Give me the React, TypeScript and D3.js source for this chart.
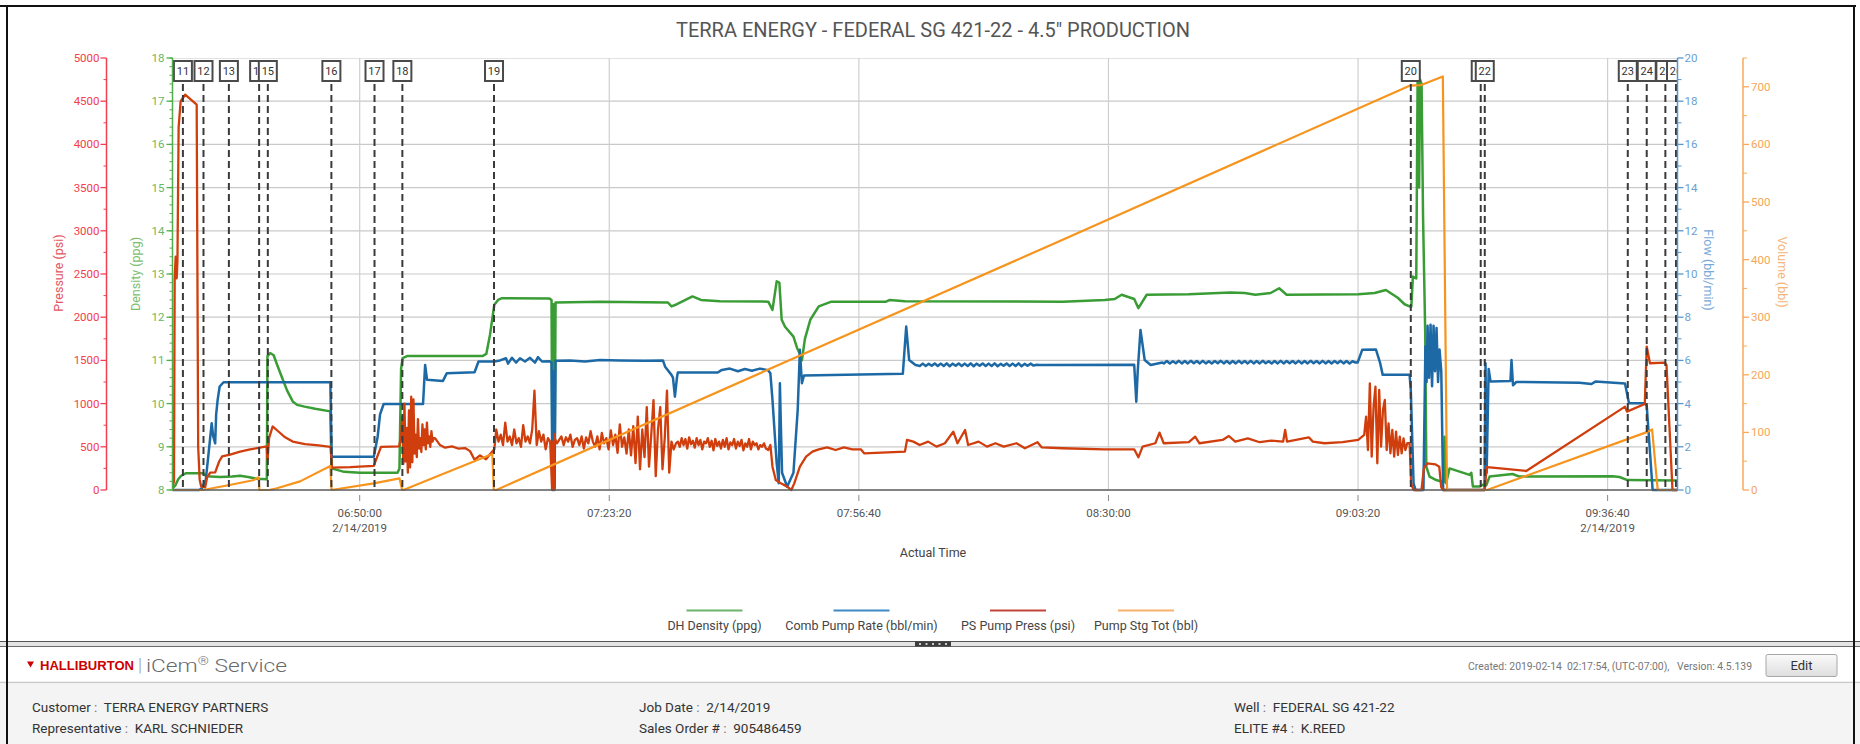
import React from "react";
import * as d3 from "d3";

type Pt = [number, number]; // [minutes after 06:00:00 on 2/14/2019, value]
type Burst = { start: number; step: number; values: number[] };

// ---------------- DATA ----------------
const TITLE = 'TERRA ENERGY - FEDERAL SG 421-22 - 4.5" PRODUCTION';
const TIME_DOMAIN = ["06:25:00", "09:46:00"];
const TIME_TICKS = ["06:50:00", "07:23:20", "07:56:40", "08:30:00", "09:03:20", "09:36:40"];
const DATED_TICKS = ["06:50:00", "09:36:40"];
const DATE_LABEL = "2/14/2019";

const PRESSURE_TICKS = [0, 500, 1000, 1500, 2000, 2500, 3000, 3500, 4000, 4500, 5000];
const DENSITY_TICKS = [8, 9, 10, 11, 12, 13, 14, 15, 16, 17, 18];
const FLOW_TICKS = [0, 2, 4, 6, 8, 10, 12, 14, 16, 18, 20];
const VOLUME_TICKS = [0, 100, 200, 300, 400, 500, 600, 700];

const MARKERS: [string, number][] = [
  ["11", 26.39], ["12", 29.14], ["13", 32.53], ["14", 36.57], ["15", 37.73], ["16", 46.22],
  ["17", 51.98], ["18", 55.7], ["19", 67.94], ["20", 190.38], ["21", 199.72], ["22", 200.26],
  ["23", 219.36], ["24", 221.89], ["25", 224.38], ["26", 225.8],
];

const DENSITY: Pt[] = [
  [25.06, 8.05], [25.36, 8.1], [25.76, 8.25], [26.16, 8.33], [26.83, 8.39], [29.1, 8.39], [29.5, 8.32],
  [31.37, 8.3], [32.97, 8.31], [34.03, 8.33], [35.1, 8.3], [36.26, 8.26], [37.6, 8.25], [37.68, 11.1],
  [38.04, 11.17], [38.51, 11.12], [38.97, 10.9], [39.64, 10.6], [40.31, 10.3], [41.06, 10.05], [41.64, 9.97],
  [42.64, 9.93], [44.05, 9.88], [46.08, 9.82], [46.24, 8.5], [47.92, 8.42], [50.05, 8.4], [55.05, 8.4],
  [55.31, 8.5], [55.53, 10.8], [55.73, 11.05], [56.33, 11.1], [66.39, 11.1], [66.91, 11.15], [67.41, 11.6],
  [67.98, 12.29], [68.48, 12.4], [69.01, 12.44], [75.36, 12.43], [75.62, 12.4], [75.75, 8.02], [75.88, 12.3],
  [76.02, 8.05], [76.16, 12.34], [82.09, 12.36], [91.17, 12.34], [91.64, 12.25], [92.37, 12.3], [94.45, 12.48],
  [95.57, 12.4], [98.11, 12.37], [104.57, 12.36], [105.13, 12.17], [105.69, 12.83], [106.05, 12.8],
  [106.36, 11.94], [106.81, 11.78], [107.93, 11.55], [108.39, 11.3], [108.79, 11.15], [109.06, 11.0],
  [109.46, 11.5], [110.18, 11.94], [111.31, 12.25], [113.0, 12.36], [120.3, 12.36], [120.8, 12.4],
  [122.81, 12.37], [143.9, 12.36], [149.5, 12.4], [150.84, 12.42], [151.76, 12.52], [153.44, 12.42],
  [154.0, 12.21], [155.11, 12.52], [160.72, 12.53], [166.32, 12.57], [168.19, 12.56], [169.63, 12.52],
  [171.66, 12.56], [172.8, 12.67], [173.8, 12.52], [183.36, 12.53], [185.55, 12.56], [187.05, 12.63],
  [188.64, 12.45], [189.55, 12.3], [190.22, 12.25], [190.45, 12.25], [190.66, 12.94], [191.11, 12.9],
  [191.29, 17.5], [191.49, 15.0], [191.62, 17.5], [191.82, 17.4], [192.02, 14.3], [192.31, 11.6],
  [192.45, 8.54], [192.89, 8.31], [193.78, 8.23], [194.76, 8.18], [194.89, 9.23], [195.09, 8.16],
  [195.56, 8.5], [198.23, 8.35], [198.46, 8.4], [198.67, 8.08], [199.56, 8.08], [199.96, 8.12],
  [200.46, 8.11], [200.9, 8.31], [203.97, 8.37], [204.9, 8.31], [217.32, 8.32], [218.25, 8.3],
  [219.32, 8.23], [226.0, 8.22],
];

const FLOW: Pt[] = [
  [25.06, 0], [28.56, 0], [28.92, 0.08], [29.44, 0.46], [29.76, 1.5], [30.23, 3.09], [30.43, 2.5],
  [30.7, 2.16], [30.83, 3.5], [31.03, 4.17], [31.3, 4.79], [31.82, 4.99], [46.08, 4.99], [46.26, 1.54],
  [51.88, 1.54], [52.4, 2.47], [52.72, 3.5], [53.2, 3.98], [58.46, 3.98], [58.74, 5.79], [59.0, 5.1],
  [61.12, 5.05], [61.64, 5.41], [65.34, 5.45], [65.87, 5.95], [67.98, 5.95], [68.74, 6.0], [69.54, 6.1],
  [69.81, 5.85], [70.34, 6.12], [70.88, 5.9], [71.41, 6.1], [72.08, 5.95], [72.75, 6.12], [73.41, 5.9],
  [73.81, 6.15], [74.35, 5.95], [75.36, 5.96], [75.62, 5.9], [75.75, 0], [75.88, 5.5], [76.02, 0],
  [76.16, 5.98], [78.09, 6.0], [80.09, 5.95], [82.09, 6.02], [84.76, 6.0], [88.1, 5.98], [90.5, 6.0],
  [90.79, 5.71], [91.64, 5.33], [91.84, 5.2], [92.1, 4.32], [92.37, 5.2], [92.49, 5.44], [97.82, 5.44],
  [98.38, 5.56], [99.44, 5.62], [100.51, 5.5], [101.45, 5.6], [102.38, 5.52], [103.45, 5.62], [104.52, 5.55],
  [104.85, 5.4], [105.13, 4.17], [105.69, 1.24], [105.97, 0.31], [106.12, 4.94], [106.25, 3.0], [106.41, 0.8],
  [107.09, 0.15], [107.93, 0.8], [108.5, 3.71], [108.79, 6.49], [109.06, 4.94], [109.34, 5.3], [122.54, 5.38],
  [122.99, 7.57], [123.38, 6.02], [124.23, 5.79], [124.6, 5.76],
  [141.09, 5.79], [153.44, 5.8], [153.72, 4.09], [153.91, 5.5],
  [154.28, 7.41], [154.84, 6.02], [155.64, 5.79], [157.2, 5.9],
  [183.28, 5.9], [183.89, 6.49], [185.73, 6.5], [186.27, 5.9], [186.63, 5.33], [190.22, 5.33], [190.38, 4.63],
  [190.75, 0.31], [191.02, 0], [192.07, 0], [192.33, 6.64], [192.49, 5.0], [192.62, 7.6], [192.82, 5.2],
  [193.02, 7.65], [193.22, 4.8], [193.42, 7.6], [193.62, 5.5], [193.82, 7.5], [194.02, 5.0], [194.22, 6.5],
  [194.45, 5.5], [194.7, 0], [200.23, 0], [200.36, 5.87], [200.51, 0.8], [200.78, 5.6], [201.03, 5.02],
  [203.69, 5.05], [203.83, 6.02], [204.03, 4.85], [204.47, 5.0], [212.91, 4.97], [214.51, 4.91],
  [215.03, 5.02], [218.99, 4.93], [219.52, 4.02], [221.63, 4.02], [221.89, 3.9], [222.68, 0], [226.0, 0],
];
const FLOW_NOISE_A: Burst = {
  start: 124.8, step: 0.4,
  values: [5.74, 5.85, 5.74, 5.84, 5.75, 5.86, 5.74, 5.85, 5.74, 5.86,
    5.73, 5.85, 5.75, 5.86, 5.74, 5.85, 5.74, 5.86, 5.73, 5.85,
    5.75, 5.86, 5.74, 5.85, 5.74, 5.86, 5.73, 5.84, 5.75, 5.86,
    5.74, 5.85, 5.74, 5.86, 5.73, 5.84, 5.75, 5.85, 5.76, 5.8, 5.79],
};
const FLOW_NOISE_B: Burst = {
  start: 157.4, step: 0.4,
  values: [5.86, 5.97, 5.86, 5.96, 5.87, 5.98, 5.86, 5.97, 5.86, 5.98,
    5.87, 5.97, 5.86, 5.98, 5.86, 5.96, 5.86, 5.97, 5.87, 5.98,
    5.86, 5.97, 5.86, 5.97, 5.86, 5.98, 5.87, 5.97, 5.86, 5.98,
    5.86, 5.97, 5.86, 5.98, 5.87, 5.96, 5.86, 5.97, 5.86, 5.98,
    5.86, 5.97, 5.87, 5.97, 5.86, 5.98, 5.86, 5.97, 5.86, 5.98,
    5.87, 5.97, 5.86, 5.98, 5.86, 5.97, 5.86, 5.97, 5.87, 5.98,
    5.86, 5.97, 5.86, 5.96, 5.9],
};

const PRESSURE_A: Pt[] = [
  [25.06, 60], [25.2, 100], [25.29, 2450], [25.42, 2700], [25.56, 2450], [25.66, 2650], [25.82, 4200],
  [26.09, 4500], [26.69, 4575], [28.23, 4460], [28.43, 500], [28.63, 120], [28.83, 40], [29.36, 30],
  [29.63, 150], [30.03, 200], [30.7, 205], [31.23, 330], [31.63, 390], [32.7, 410], [34.03, 445],
  [35.37, 470], [36.3, 485], [37.57, 505], [37.7, 350], [37.9, 600], [38.37, 735], [39.11, 680],
  [40.04, 610], [41.05, 560], [42.71, 530], [44.18, 520], [46.11, 500], [46.29, 260], [48.72, 265],
  [51.88, 280], [52.32, 380], [52.85, 500], [55.26, 505],
];
const PRESSURE_BURST_18: Burst = {
  start: 55.53, step: 0.15,
  values: [620, 850, 300, 1000, 330, 720, 200, 920, 260, 1080, 320, 1050, 420, 640, 380, 820, 480, 600, 440,
    760, 520, 700, 470, 780, 540, 620, 500, 680, 560, 600],
};
const PRESSURE_B: Pt[] = [
  [60.06, 600], [60.73, 520], [61.4, 490], [62.33, 505], [63.14, 480], [64.07, 485], [64.74, 450],
  [65.34, 350], [66.07, 400], [66.87, 355], [67.45, 420], [67.98, 470],
  [75.7, 0], [75.8, 560], [75.92, 0], [76.05, 600],
];
const PRESSURE_BURST_19: Burst = {
  start: 68.24, step: 0.3,
  values: [700, 560, 640, 520, 780, 560, 620, 520, 700, 540,
    600, 500, 750, 560, 620, 540, 700, 1150, 520, 680,
    560, 640, 470, 600, 560, 520, 650, 540, 580, 620,
    520, 610, 560, 640, 500, 580, 600, 520, 620, 480,
    610, 540, 680, 560, 500, 620, 470, 660, 540, 600,
    470, 690, 520, 640, 430, 760, 500, 610, 420, 700,
    400, 740, 310, 850, 240, 700, 380, 960, 270, 640,
    1040, 160, 700, 960, 240, 600, 1150, 200, 560, 470,
    540],
};
const PRESSURE_BURST_AFTER: Burst = {
  start: 92.5, step: 0.25,
  values: [560, 500, 600, 520, 590, 480, 610, 530, 570, 490, 600, 520, 580, 470, 560, 540,
    600, 500, 570, 460, 590, 510, 560, 480, 580, 500, 600, 470, 550, 520, 590, 480,
    560, 510, 580, 460, 540, 500, 590, 470, 560, 520, 540, 470, 520, 500, 540, 480],
};
const PRESSURE_C: Pt[] = [
  [104.57, 463], [104.85, 521], [105.13, 270], [105.57, 116], [106.25, 77], [107.09, 39],
  [107.65, 0], [108.04, 77], [108.79, 270], [109.62, 386], [110.46, 444], [111.31, 471], [112.43, 494],
  [113.56, 463], [114.68, 494], [115.8, 471], [116.93, 471], [117.37, 425], [122.82, 444], [123.1, 579],
  [123.95, 560], [124.79, 521], [125.92, 560], [127.04, 502], [128.16, 541], [129.28, 675], [129.84, 541],
  [130.85, 695], [131.26, 521], [132.66, 560], [133.78, 502], [134.9, 541], [136.02, 502], [137.72, 541],
  [138.84, 483], [140.52, 553], [141.08, 494], [143.9, 483], [149.5, 471], [153.44, 471], [154.0, 378],
  [154.56, 502], [156.26, 541], [156.82, 664], [157.38, 541], [160.74, 553], [161.58, 618], [162.16, 541],
  [165.24, 579], [166.08, 625], [166.93, 560], [168.62, 598], [170.2, 553], [171.74, 571], [173.33, 560],
  [173.6, 695], [173.85, 560], [176.76, 610], [177.3, 560], [178.87, 541], [181.25, 553], [183.36, 579],
  [184.16, 637],
];
const PRESSURE_BURST_20: Burst = {
  start: 184.41, step: 0.25,
  values: [849, 463, 1235, 386, 965, 1196, 309, 1158, 502, 926, 1042, 463, 772, 425, 695, 386, 675, 405,
    618, 425, 598, 463, 541],
};
const PRESSURE_D: Pt[] = [
  [190.22, 541], [190.43, 77], [190.75, 0], [191.81, 0], [192.13, 251], [192.6, 309], [193.65, 297],
  [194.18, 270], [194.45, 31], [194.7, 0], [200.26, 0], [200.51, 265], [201.3, 260], [205.8, 220],
  [218.99, 965], [219.25, 907], [221.63, 996], [221.89, 1660], [222.32, 1467], [224.27, 1475],
  [224.53, 1448], [225.33, 0], [226.0, 0],
];

const VOLUME: Pt[] = [
  [25.06, 0], [29.1, 0], [32.61, 8.7], [35.77, 17], [36.5, 22], [36.6, 0], [37.89, 0], [38.95, 3],
  [42.04, 15], [46.08, 41.7], [46.24, 0], [51.88, 11.6], [55.31, 20.3], [55.68, 0], [55.83, 0],
  [67.71, 62.6], [67.91, 0], [68.24, 0], [104.57, 209], [142.76, 428], [190.22, 702], [191.78, 703],
  [194.66, 718], [195.22, 0], [200.56, 0], [221.81, 100], [222.61, 105], [223.36, 0], [226.0, 0],
];

const LEGEND_LABELS = ["DH Density (ppg)", "Comb Pump Rate (bbl/min)", "PS Pump Press (psi)", "Pump Stg Tot (bbl)"];

const INFO_ROWS: [string, string][][] = [
  [["Customer", "TERRA ENERGY PARTNERS"], ["Representative", "KARL SCHNIEDER"]],
  [["Job Date", "2/14/2019"], ["Sales Order #", "905486459"]],
  [["Well", "FEDERAL SG 421-22"], ["ELITE #4", "K.REED"]],
];
const CREATED_TEXT = "Created: 2019-02-14  02:17:54, (UTC-07:00),   Version: 4.5.139";

// ---------------- STYLE / LAYOUT ----------------
const W = 1860;
const H = 744;
const P = { left: 172.5, right: 1677.5, top: 58, bottom: 490 };
const PRESS_AXIS_X = 106.5;
const VOL_AXIS_X = 1743;
const COLORS = {
  density: "#3a9c35",
  flow: "#1d69a5",
  pressure: "#cf3e0c",
  volume: "#f7941d",
};
const LEGEND_COLORS = ["#6cb46a", "#3f8ac6", "#c4463a", "#f6b26b"];
const LEGEND_X = [714.5, 861.5, 1018, 1146];
const INFO_X = [32, 639, 1234];
const FONT = "Roboto, 'Open Sans', sans-serif";
const BOX_HALF = 10;

const base = new Date(2019, 1, 14, 6, 0, 0).getTime();
const fromMinutes = (m: number) => new Date(base + m * 60000);
const clock = (s: string) => {
  const [h, m, sec] = s.split(":").map(Number);
  return new Date(2019, 1, 14, h, m, sec);
};
const expand = (b: Burst): Pt[] => b.values.map((v, i) => [b.start + i * b.step, v] as Pt);

export default function App() {
  const x = d3.scaleTime().domain(TIME_DOMAIN.map(clock)).range([P.left, P.right]);
  const yD = d3.scaleLinear().domain([8, 18]).range([P.bottom, P.top]);
  const yP = d3.scaleLinear().domain([0, 5000]).range([P.bottom, P.top]);
  const yF = d3.scaleLinear().domain([0, 20]).range([P.bottom, P.top]);
  const yV = d3.scaleLinear().domain([0, 750]).range([P.bottom, P.top]);

  const byTime = (a: Pt, b: Pt) => a[0] - b[0];
  const pressure: Pt[] = [
    ...PRESSURE_A, ...expand(PRESSURE_BURST_18), ...PRESSURE_B, ...expand(PRESSURE_BURST_19),
    ...expand(PRESSURE_BURST_AFTER), ...PRESSURE_C, ...expand(PRESSURE_BURST_20), ...PRESSURE_D,
  ].sort(byTime);
  const flow: Pt[] = [...FLOW, ...expand(FLOW_NOISE_A), ...expand(FLOW_NOISE_B)].sort(byTime);

  const mk = (ys: d3.ScaleLinear<number, number>) =>
    d3.line<Pt>().x((d) => x(fromMinutes(d[0]))).y((d) => ys(d[1]));

  const densMinor = d3.range(8, 18.001, 0.2);
  const pressMinor = d3.range(250, 5000, 500);
  const flowMinor = d3.range(1, 20, 2);
  const volMinor = d3.range(50, 751, 100);

  const tickFont = { fontFamily: FONT, fontSize: 11.5 } as const;

  // marker boxes: each later box covers the earlier one; visible part of box i runs to the next box's left edge
  const markerXs = MARKERS.map(([, t]) => x(fromMinutes(t)));
  const visibleRight = markerXs.map((mx, i) =>
    Math.min(i < markerXs.length - 1 ? markerXs[i + 1] - BOX_HALF : P.right, P.right, mx + BOX_HALF));

  return (
    <div style={{ position: "absolute", left: 0, top: 0, width: W, height: H, overflow: "hidden", background: "#fff" }}>
      <svg width={W} height={H} viewBox={`0 0 ${W} ${H}`} style={{ display: "block" }}>
        <defs>
          <clipPath id="plotClip">
            <rect x={P.left} y={P.top - 4} width={P.right - P.left} height={P.bottom - P.top + 6} />
          </clipPath>
          {MARKERS.map(([lab], i) => (
            <clipPath id={"mclip" + lab} key={"mc" + lab}>
              <rect x={markerXs[i] - BOX_HALF} y={58} width={Math.max(0, visibleRight[i] - (markerXs[i] - BOX_HALF))} height={26} />
            </clipPath>
          ))}
          <linearGradient id="btn" x1="0" y1="0" x2="0" y2="1">
            <stop offset="0" stopColor="#fafafa" />
            <stop offset="1" stopColor="#dedede" />
          </linearGradient>
        </defs>
        <rect x={0} y={0} width={W} height={H} fill="#fff" />

        {/* title */}
        <text x={933} y={37} textAnchor="middle" fontFamily={FONT} fontSize={21} fill="#555"
          textLength={514} lengthAdjust="spacingAndGlyphs">{TITLE}</text>

        {/* grid */}
        <line x1={P.left} x2={P.right} y1={P.top + 0.5} y2={P.top + 0.5} stroke="#e2e2e2" />
        {DENSITY_TICKS.filter((t) => t > 8 && t < 18).map((t) => (
          <line key={"hg" + t} x1={P.left} x2={P.right} y1={yD(t)} y2={yD(t)} stroke="#c9c9c9" strokeWidth={1.2} />
        ))}
        {TIME_TICKS.map((t) => (
          <line key={"vg" + t} x1={x(clock(t))} x2={x(clock(t))} y1={P.top} y2={P.bottom} stroke="#cfcfcf" strokeWidth={1.2} />
        ))}

        {/* series */}
        <g clipPath="url(#plotClip)" fill="none" strokeLinejoin="round" strokeLinecap="round">
          <path d={mk(yD)(DENSITY) || ""} stroke={COLORS.density} strokeWidth={2.5} />
          <path d={mk(yF)(flow) || ""} stroke={COLORS.flow} strokeWidth={2.5} />
          <path d={mk(yP)(pressure) || ""} stroke={COLORS.pressure} strokeWidth={2.3} />
          <path d={mk(yV)(VOLUME) || ""} stroke={COLORS.volume} strokeWidth={2.2} />
        </g>

        {/* bottom axis */}
        <line x1={P.left} x2={P.right} y1={P.bottom} y2={P.bottom} stroke="#5a5a5a" strokeWidth={1.6} />
        {TIME_TICKS.map((t) => {
          const tx = x(clock(t));
          return (
            <g key={"xt" + t}>
              <line x1={tx} x2={tx} y1={495} y2={501} stroke="#888" />
              <text x={tx} y={517} textAnchor="middle" {...tickFont} fill="#555">{t}</text>
              {DATED_TICKS.includes(t) && (
                <text x={tx} y={532} textAnchor="middle" {...tickFont} fill="#555">{DATE_LABEL}</text>
              )}
            </g>
          );
        })}
        <text x={933} y={557} textAnchor="middle" fontFamily={FONT} fontSize={12.5} fill="#444">Actual Time</text>

        {/* markers */}
        <g clipPath="url(#plotClip)">
          {MARKERS.map(([lab], i) => (
            <line key={"ml" + lab} x1={markerXs[i]} x2={markerXs[i]} y1={84} y2={P.bottom} stroke="#3a3a3a" strokeWidth={2} strokeDasharray="7 4" />
          ))}
          {MARKERS.map(([lab], i) => {
            const mx = markerXs[i];
            const showLabel = visibleRight[i] - (mx - BOX_HALF) >= 8;
            return (
              <g key={"mb" + lab}>
                <rect x={mx - 9} y={61} width={18} height={20} fill="#fff" stroke="#4a4a4a" strokeWidth={2} />
                {showLabel && (
                  <text x={mx} y={75} textAnchor="middle" fontFamily={FONT} fontSize={11} fill="#333"
                    clipPath={`url(#mclip${lab})`}>{lab}</text>
                )}
              </g>
            );
          })}
        </g>

        {/* pressure axis */}
        <line x1={PRESS_AXIS_X} x2={PRESS_AXIS_X} y1={P.top} y2={P.bottom} stroke="#f04050" strokeWidth={1.5} />
        {PRESSURE_TICKS.map((t) => (
          <g key={"pt" + t}>
            <line x1={PRESS_AXIS_X - 6} x2={PRESS_AXIS_X} y1={yP(t)} y2={yP(t)} stroke="#f04050" strokeWidth={1.3} />
            <text x={PRESS_AXIS_X - 7} y={yP(t)} dy="0.35em" textAnchor="end" {...tickFont} fill="#f2404a">{t}</text>
          </g>
        ))}
        {pressMinor.map((t) => (
          <line key={"pm" + t} x1={PRESS_AXIS_X - 3} x2={PRESS_AXIS_X} y1={yP(t)} y2={yP(t)} stroke="#f04050" />
        ))}
        <text transform={`translate(63,273) rotate(-90)`} textAnchor="middle" fontFamily={FONT} fontSize={12.5} fill="#e25560">Pressure (psi)</text>

        {/* density axis */}
        <line x1={P.left} x2={P.left} y1={P.top} y2={P.bottom} stroke="#4fae48" strokeWidth={1.5} />
        {densMinor.map((t, i) => (
          <line key={"dm" + i} x1={P.left - 3} x2={P.left} y1={yD(t)} y2={yD(t)} stroke="#4fae48" />
        ))}
        {DENSITY_TICKS.map((t) => (
          <g key={"dt" + t}>
            <line x1={P.left - 6} x2={P.left} y1={yD(t)} y2={yD(t)} stroke="#4fae48" strokeWidth={1.3} />
            <text x={P.left - 8} y={yD(t)} dy="0.35em" textAnchor="end" {...tickFont} fill="#6db562">{t}</text>
          </g>
        ))}
        <text transform={`translate(140,274) rotate(-90)`} textAnchor="middle" fontFamily={FONT} fontSize={12.5} fill="#7cbd72">Density (ppg)</text>

        {/* flow axis */}
        <line x1={P.right} x2={P.right} y1={P.top} y2={P.bottom} stroke="#5a95cf" strokeWidth={1.5} />
        {flowMinor.map((t) => (
          <line key={"fm" + t} x1={P.right} x2={P.right + 4} y1={yF(t)} y2={yF(t)} stroke="#5a95cf" />
        ))}
        {FLOW_TICKS.map((t) => (
          <g key={"ft" + t}>
            <line x1={P.right} x2={P.right + 6} y1={yF(t)} y2={yF(t)} stroke="#5a95cf" strokeWidth={1.3} />
            <text x={P.right + 7} y={yF(t)} dy="0.35em" textAnchor="start" {...tickFont} fill="#6a9fd3">{t}</text>
          </g>
        ))}
        <text transform={`translate(1704,270) rotate(90)`} textAnchor="middle" fontFamily={FONT} fontSize={12.5} fill="#7aa8d8">Flow (bbl/min)</text>

        {/* volume axis */}
        <line x1={VOL_AXIS_X} x2={VOL_AXIS_X} y1={yV(750)} y2={yV(0)} stroke="#f8a85a" strokeWidth={1.5} />
        {volMinor.map((t) => (
          <line key={"vm" + t} x1={VOL_AXIS_X} x2={VOL_AXIS_X + 4} y1={yV(t)} y2={yV(t)} stroke="#f8a85a" />
        ))}
        {VOLUME_TICKS.map((t) => (
          <g key={"vt" + t}>
            <line x1={VOL_AXIS_X} x2={VOL_AXIS_X + 6} y1={yV(t)} y2={yV(t)} stroke="#f8a85a" strokeWidth={1.3} />
            <text x={VOL_AXIS_X + 8} y={yV(t)} dy="0.35em" textAnchor="start" {...tickFont} fill="#f6a55a">{t}</text>
          </g>
        ))}
        <text transform={`translate(1778,272) rotate(90)`} textAnchor="middle" fontFamily={FONT} fontSize={12.5} fill="#f5b57a">Volume (bbl)</text>

        {/* legend */}
        {LEGEND_LABELS.map((lab, i) => (
          <g key={"lg" + i}>
            <line x1={LEGEND_X[i] - 28} x2={LEGEND_X[i] + 28} y1={610.5} y2={610.5} stroke={LEGEND_COLORS[i]} strokeWidth={2} />
            <text x={LEGEND_X[i]} y={630} textAnchor="middle" fontFamily={FONT} fontSize={12.5} fill="#444">{lab}</text>
          </g>
        ))}

        {/* separator */}
        <rect x={0} y={641.5} width={W} height={5} fill="#e4e4e4" />
        <line x1={0} x2={W} y1={641.5} y2={641.5} stroke="#555" strokeWidth={1.2} />
        <line x1={0} x2={W} y1={646.5} y2={646.5} stroke="#6a6a6a" strokeWidth={1.2} />
        <rect x={915} y={641.5} width={36} height={5} fill="#3d3d3d" />
        {d3.range(5).map((i) => (
          <rect key={"gd" + i} x={919 + i * 6.5} y={643} width={2} height={2} fill="#ccc" />
        ))}

        {/* header row */}
        <path d="M27,661.5 L34,661.5 L30.5,667.5 Z" fill="#cc0000" />
        <text x={40} y={670} fontFamily="'Liberation Sans', Arial, sans-serif" fontWeight="bold" fontSize={13.5} fill="#cc0000"
          textLength={94} lengthAdjust="spacingAndGlyphs">HALLIBURTON</text>
        <text x={138} y={671} fontFamily={FONT} fontSize={18} fontWeight={300} fill="#999">|</text>
        <text x={146} y={671.5} fontFamily={FONT} fontSize={18} fontWeight={300} fill="#6a6a6a" textLength={141} lengthAdjust="spacingAndGlyphs">iCem<tspan fontSize={11} dy={-7}>®</tspan><tspan dy={7}> Service</tspan></text>
        <text x={1752} y={670} textAnchor="end" fontFamily={FONT} fontSize={11} fill="#777" style={{ whiteSpace: "pre" }}
          textLength={284} lengthAdjust="spacingAndGlyphs">{CREATED_TEXT}</text>
        <rect x={1766} y={654.5} width={71} height={22} rx={2} fill="url(#btn)" stroke="#a8a8a8" />
        <text x={1801.5} y={670} textAnchor="middle" fontFamily={FONT} fontSize={13} fill="#333">Edit</text>
        <line x1={0} x2={W} y1={682.5} y2={682.5} stroke="#c8c8c8" strokeWidth={1.5} />
        <rect x={0} y={683.5} width={W} height={H - 683.5} fill="#f4f4f4" />

        {/* info */}
        {INFO_ROWS.map((col, ci) =>
          col.map(([k, v], ri) => (
            <text key={"in" + ci + ri} x={INFO_X[ci]} y={712 + ri * 21} fontFamily={FONT} fontSize={13.5} fill="#333" style={{ whiteSpace: "pre" }}>
              {k}<tspan fill="#777"> :  </tspan>{v}
            </text>
          ))
        )}

        {/* frame */}
        <line x1={0} x2={1856} y1={6} y2={6} stroke="#111" strokeWidth={2} />
        <line x1={7} x2={7} y1={5} y2={H} stroke="#111" strokeWidth={2} />
        <line x1={1854} x2={1854} y1={5} y2={H} stroke="#111" strokeWidth={2} />
      </svg>
    </div>
  );
}
